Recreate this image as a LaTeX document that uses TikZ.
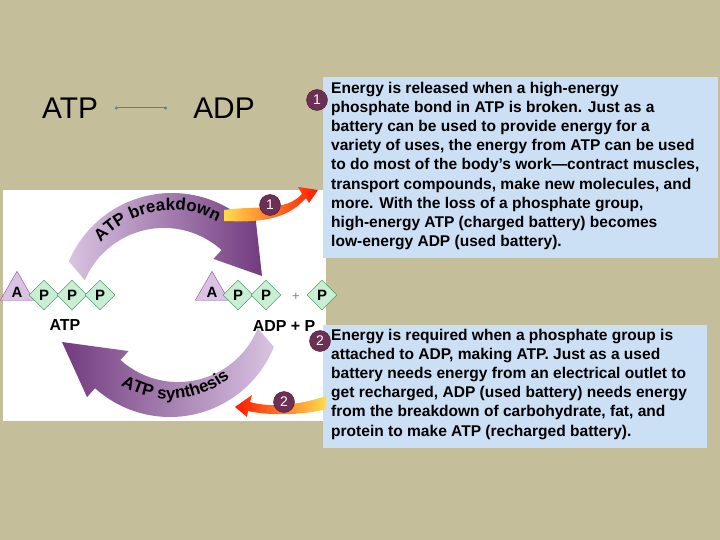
\documentclass[tikz,border=0pt]{standalone}
\usepackage{fontspec}
\setmainfont{Liberation Sans}
\usetikzlibrary{decorations.text,arrows.meta,shapes.geometric,calc}
\definecolor{bg}{HTML}{C5BE9B}
\definecolor{boxb}{HTML}{CCE0F5}
\definecolor{maroon}{HTML}{6E2F55}
\definecolor{purp}{HTML}{8E4A9E}
\definecolor{lav}{HTML}{D9C3E2}
\definecolor{dgreen}{HTML}{2E8B57}
\definecolor{lgreen}{HTML}{C8EED4}
\definecolor{steel}{HTML}{5A7FA0}
\begin{document}
\begin{tikzpicture}[x=1bp,y=-1bp,
 num/.style={circle,fill=maroon,draw=maroon!60!black,text=white,inner sep=0pt,minimum size=21bp,font=\fontsize{14}{14}\selectfont},
 btext/.style={anchor=north west,align=left,inner sep=0pt,font=\fontsize{15.6}{19.2}\selectfont\bfseries},
 dia/.style={diamond,draw=dgreen,fill=lgreen,minimum size=30bp,inner sep=0pt,font=\fontsize{15}{15}\selectfont\bfseries},
 tri/.style={isosceles triangle,isosceles triangle apex angle=60,shape border rotate=90,draw=purp,fill=lav,minimum height=29bp,inner sep=0pt,font=\fontsize{15}{15}\selectfont\bfseries},
 big/.style={font=\fontsize{30}{30}\selectfont},
 lab/.style={font=\fontsize{16}{16}\selectfont\bfseries}]
\fill[bg] (0,0) rectangle (720,540);
\fill[white] (3,190) rectangle (326,421);
% top
\node[big] (atp) at (70,108) {ATP};
\node[big] (adp) at (224,108) {ADP};
\coordinate (l1) at (115,108); \coordinate (l2) at (167,108);
\draw[draw=steel,line width=1bp,{Circle[length=3bp]}-{Circle[length=3bp]}] (l1)--(l2);
% boxes
\fill[boxb] (323,77) rectangle (718,258);
\fill[boxb] (323,325) rectangle (707,448);
\node[btext] (t1) at (331,82) {Energy is released when a high-energy\\phosphate bond in ATP is broken. Just as a\\battery can be used to provide energy for a\\variety of uses, the energy from ATP can be used\\to do most of the body’s work—contract muscles,\\transport compounds, make new molecules, and\\more. With the loss of a phosphate group,\\high-energy ATP (charged battery) becomes\\low-energy ADP (used battery).};
\node[btext] (t2) at (331,329) {Energy is required when a phosphate group is\\attached to ADP, making ATP. Just as a used\\battery needs energy from an electrical outlet to\\get recharged, ADP (used battery) needs energy\\from the breakdown of carbohydrate, fat, and\\protein to make ATP (recharged battery).};
\node[num] (n1) at (317,100) {1};
\node[num] (n2) at (320,341) {2};
% arcs
\shade[left color=lav,right color=purp!80!black]
 (172,305) ++(-157:112) arc[start angle=-157,end angle=-48,radius=112]
 -- ++(-48:12) -- (262,276) -- ($(172,305)+(-48:62)$) -- ++(-48:12) arc[start angle=-48,end angle=-157,radius=86] -- cycle;
\shade[left color=purp!80!black,right color=lav]
 (170,305) ++(22:112) arc[start angle=22,end angle=132,radius=112]
 -- ++(132:12) -- (62,342) -- ($(170,305)+(132:62)$) -- ++(132:12) arc[start angle=132,end angle=22,radius=86] -- cycle;
\path[decorate,decoration={text along path,text={|\fontsize{17}{17}\selectfont\bfseries|ATP breakdown},text align=center}]
 (172,305) ++(-150:95) arc[start angle=-150,end angle=-50,radius=95];
\path[decorate,decoration={text along path,text={|\fontsize{17}{17}\selectfont\bfseries|ATP synthesis},text align=center}]
 (170,305) ++(140:94) arc[start angle=140,end angle=32,radius=94];
% molecules
\node[tri] (a1) at (17,292) {A};
\node[dia] (p1) at (44,295) {P};
\node[dia] (p2) at (72,295) {P};
\node[dia] (p3) at (100,295) {P};
\node[tri] (a2) at (212,292) {A};
\node[dia] (p4) at (238,295) {P};
\node[dia] (p5) at (266,295) {P};
\node[font=\fontsize{13}{13}\selectfont,text=gray] (plus) at (296,297) {+};
\node[dia] (p6) at (322,295) {P};
\node[lab] (latp) at (65,325) {ATP};
\node[lab] (ladp) at (284,326) {ADP + P};
% orange arrows
\shade[left color=yellow!60!orange!70,right color=red!80!orange]
 (224,210) .. controls (260,205) and (285,212) .. (302,194) -- (298,187) -- (318,190) -- (309,203) -- (306,198) .. controls (285,222) and (255,222) .. (224,221) -- cycle;
\shade[left color=red!80!orange,right color=yellow!60!orange!70]
 (326,396) .. controls (300,405) and (270,408) .. (250,402) -- (252,395) -- (235,407) -- (247,417) -- (248,411) .. controls (270,416) and (305,415) .. (326,409) -- cycle;
\node[num] (m1) at (270,205) {1};
\node[num] (m2) at (284,402) {2};
\end{tikzpicture}
\end{document}
